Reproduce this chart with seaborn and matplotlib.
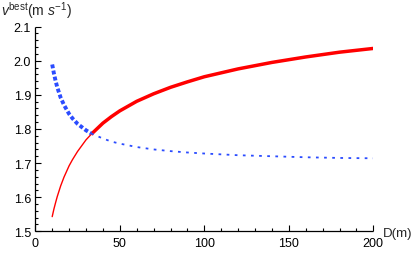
import seaborn as sns
import matplotlib.pyplot as plt
from matplotlib.ticker import MultipleLocator, FormatStrFormatter

# Values (D in m, v in m/s)
D = [10, 11, 12, 13, 15, 17, 20, 22, 25, 30, 33, 40, 45, 50, 60, 70, 80, 90,
     100, 120, 140, 160, 180, 200]
v_red = [1.543, 1.565, 1.584, 1.602, 1.633, 1.659, 1.692, 1.710, 1.734, 1.768,
         1.784, 1.817, 1.836, 1.853, 1.881, 1.903, 1.922, 1.938, 1.953, 1.976,
         1.995, 2.011, 2.025, 2.036]
v_blue = [1.989, 1.963, 1.941, 1.922, 1.892, 1.870, 1.844, 1.831, 1.815, 1.796,
          1.787, 1.772, 1.763, 1.757, 1.747, 1.740, 1.735, 1.731, 1.728, 1.723,
          1.720, 1.717, 1.715, 1.714]
D_CROSS = 33  # where the two curves meet

x_ticks = [0, 50, 100, 150, 200]
y_ticks = [1.5, 1.6, 1.7, 1.8, 1.9, 2.0, 2.1]

sns.set_style("white")
plt.rcParams["font.family"] = ["Liberation Sans", "DejaVu Sans"]
plt.rcParams["mathtext.fontset"] = "custom"
plt.rcParams["mathtext.rm"] = "Liberation Sans"
plt.rcParams["mathtext.it"] = "Liberation Sans:italic"

RED = "#ff0000"
BLUE = "#2b4cff"

fig = plt.figure(figsize=(4.15, 2.55), dpi=100)
ax = fig.add_axes([35.3 / 415, 1 - 232.3 / 255, 338 / 415, 204.7 / 255])

lo = [i for i, d in enumerate(D) if d <= D_CROSS]
hi = [i for i, d in enumerate(D) if d >= D_CROSS]

# red: thin before the crossing, thick after
sns.lineplot(x=[D[i] for i in lo], y=[v_red[i] for i in lo], ax=ax,
             color=RED, lw=1.0, sort=False)
sns.lineplot(x=[D[i] for i in hi], y=[v_red[i] for i in hi], ax=ax,
             color=RED, lw=2.5, sort=False, solid_capstyle="butt")
# blue dotted: thick before the crossing, thin after
sns.lineplot(x=[D[i] for i in lo], y=[v_blue[i] for i in lo], ax=ax,
             color=BLUE, lw=2.8, sort=False, linestyle=(0, (1, 0.6)))
sns.lineplot(x=[D[i] for i in hi], y=[v_blue[i] for i in hi], ax=ax,
             color=BLUE, lw=1.3, sort=False, linestyle=(0, (1.5, 3)))

ax.set_xlim(0, 200)
ax.set_ylim(1.5, 2.1)
ax.set_xticks(x_ticks)
ax.set_yticks(y_ticks)
ax.xaxis.set_minor_locator(MultipleLocator(10))
ax.yaxis.set_minor_locator(MultipleLocator(0.02))
ax.yaxis.set_major_formatter(FormatStrFormatter("%.1f"))
ax.set_xlabel("")
ax.set_ylabel("")

for side in ["top", "right"]:
    ax.spines[side].set_visible(False)
for side in ["left", "bottom"]:
    ax.spines[side].set_color("black")
    ax.spines[side].set_linewidth(0.9)
    ax.spines[side].set_capstyle("butt")

ax.tick_params(which="both", direction="in", color="black", width=0.8,
               labelsize=9, labelcolor="black", bottom=True, left=True)
ax.tick_params(which="major", length=4)
ax.tick_params(which="minor", length=2)
ax.tick_params(axis="y", pad=3)
ax.tick_params(axis="x", pad=4)

fig.text(1 / 415, 1 - 15.5 / 255, r"$v^{\mathrm{best}}$(m $s^{-1}$)",
         fontsize=10, va="baseline", ha="left")
fig.text(383 / 415, 1 - 237 / 255, "D(m)", fontsize=9.5, va="baseline", ha="left")

fig.savefig("out.png", dpi=100)
